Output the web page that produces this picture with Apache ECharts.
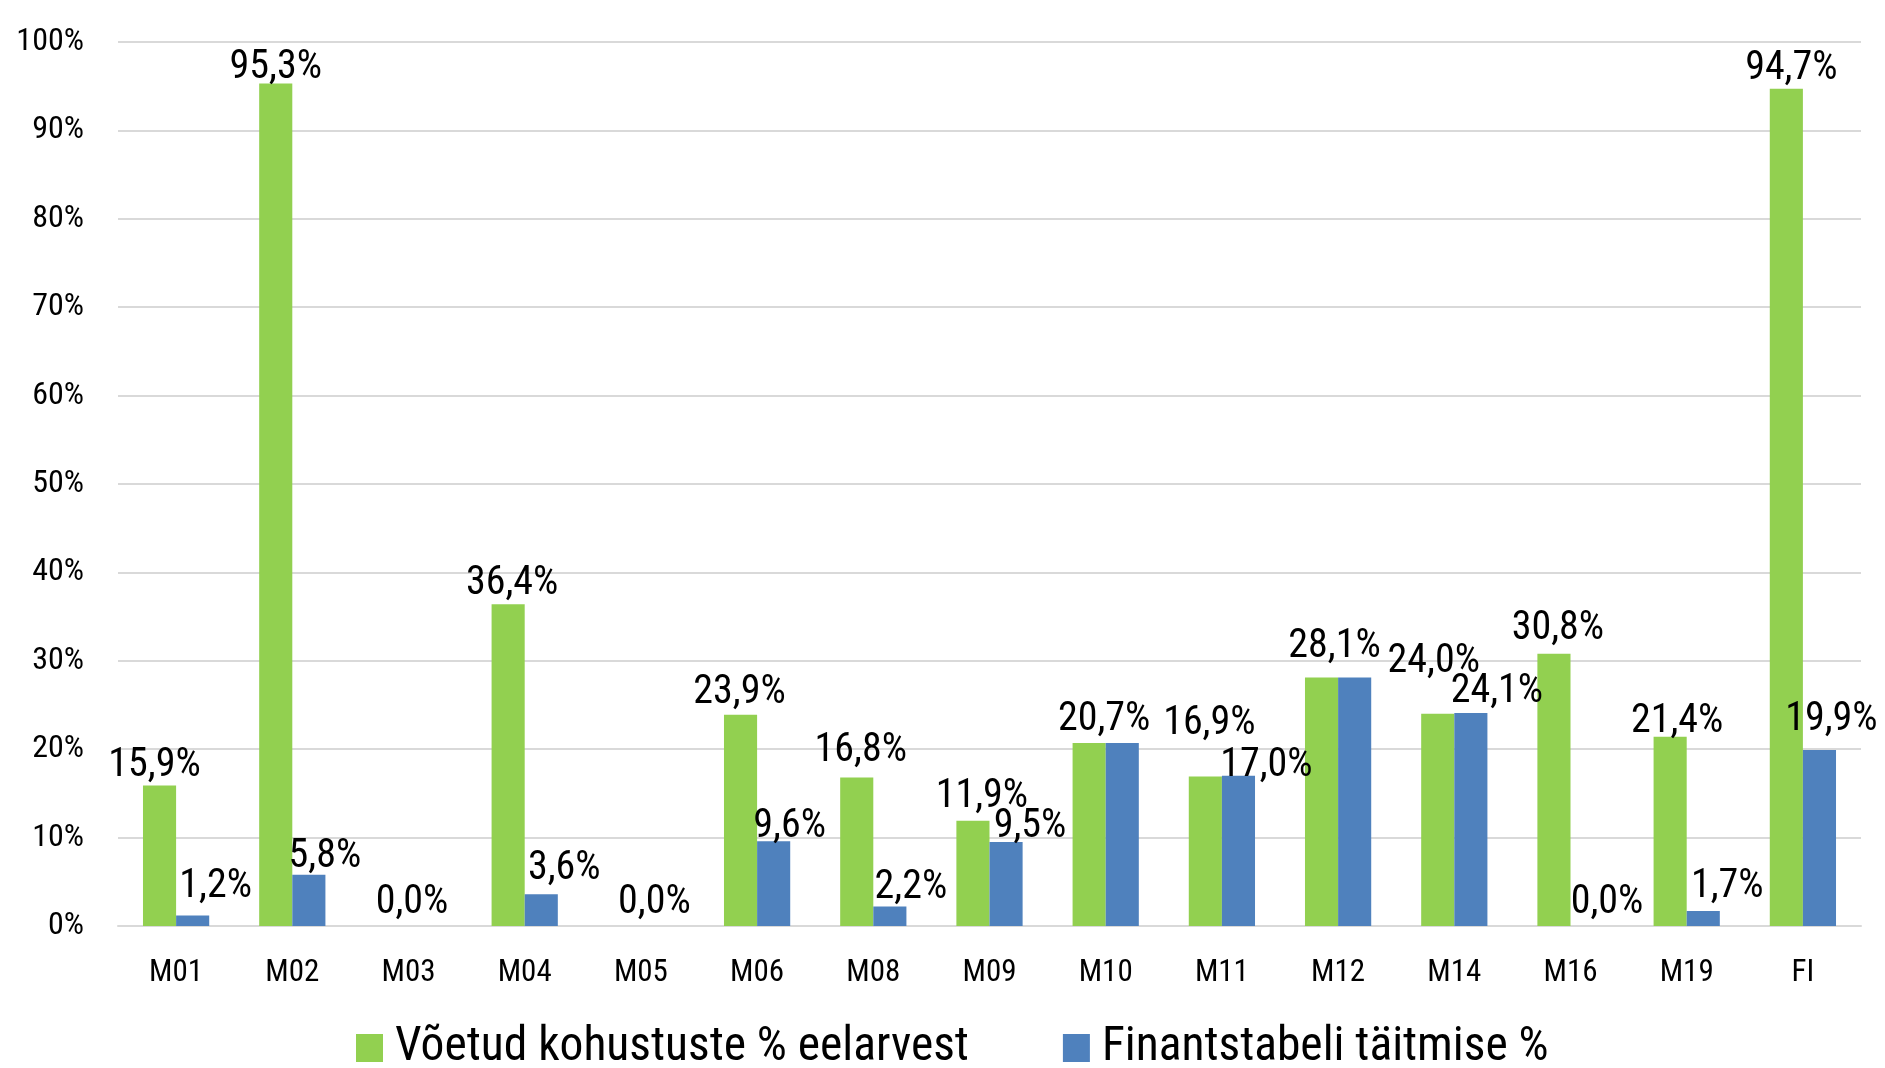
<!DOCTYPE html>
<html>
<head>
<meta charset="utf-8">
<script src="https://cdn.jsdelivr.net/npm/echarts@6/dist/echarts.min.js"></script>
<style>
html,body{margin:0;padding:0;background:#fff;}
#chart{width:1885px;height:1068px;}
</style>
</head>
<body>
<div id="chart"></div>
<script>
const categories = ['M01','M02','M03','M04','M05','M06','M08','M09','M10','M11','M12','M14','M16','M19','FI'];
const seriesNames = ['Võetud kohustuste % eelarvest', 'Finantstabeli täitmise %'];
const greenValues = [15.9, 95.3, 0.0, 36.4, 0.0, 23.9, 16.8, 11.9, 20.7, 16.9, 28.1, 24.0, 30.8, 21.4, 94.7];
const blueValues  = [1.2, 5.8, 0.0, 3.6, 0.0, 9.6, 2.2, 9.5, 20.7, 17.0, 28.1, 24.1, 0.0, 1.7, 19.9];
const yTicks = [0, 10, 20, 30, 40, 50, 60, 70, 80, 90, 100];

// label placement tweaks (style only): [dx, dy], null = label hidden
const greenLabelOffsets = [[-5,5],[0,8],null,[4,4],null,[-1,2],[4,-2],[9,0],[15,1],[4,-29],[13,-7],[-4,-28],[4,-1],[7,9],[5,4]];
const blueLabelOffsets  = [[23,-4],[16,6],[-13,1],[23,-1],[-3,1],[16,10],[21,5],[24,9],null,[28,14],null,[26,3],[20,1],[24,0],[12,-6]];

const FONT = "'Roboto Condensed', 'Liberation Sans Narrow', 'DejaVu Sans Condensed', sans-serif";

function fmt(v){ return v.toFixed(1).replace('.', ',') + '%'; }

function buildData(values, offsets){
  return values.map((v, i) => {
    const o = offsets[i];
    if (!o) return { value: v, label: { show: false } };
    return { value: v, label: { offset: o } };
  });
}

const labelStyle = {
  show: true,
  position: 'top',
  distance: 4,
  fontFamily: FONT,
  fontSize: 40,
  lineHeight: 40,
  color: '#000',
  formatter: p => fmt(p.value)
};

const chart = echarts.init(document.getElementById('chart'), null, {renderer: 'canvas'});
chart.setOption({
  animation: false,
  backgroundColor: '#fff',
  grid: { left: 118, right: 24, top: 42, bottom: 142, containLabel: false },
  legend: {
    data: seriesNames,
    left: 356,
    top: 1024,
    padding: 0,
    itemWidth: 27,
    itemHeight: 28,
    itemGap: 94,
    icon: 'rect',
    textStyle: { fontFamily: FONT, fontSize: 47.5, color: '#000', padding: [0,0,0,7] }
  },
  xAxis: {
    type: 'category',
    data: categories,
    axisLine: { show: true, lineStyle: { color: '#d9d9d9', width: 2 } },
    axisTick: { show: false },
    axisLabel: { fontFamily: FONT, fontSize: 31, color: '#000', margin: 32 }
  },
  yAxis: {
    type: 'value',
    min: yTicks[0],
    max: yTicks[yTicks.length - 1],
    interval: 10,
    axisLine: { show: false },
    axisTick: { show: false },
    splitLine: { lineStyle: { color: '#d9d9d9', width: 2 } },
    axisLabel: { fontFamily: FONT, fontSize: 32, color: '#000', margin: 34, formatter: v => v + '%' }
  },
  series: [
    {
      name: seriesNames[0],
      type: 'bar',
      data: buildData(greenValues, greenLabelOffsets),
      itemStyle: { color: '#92d050' },
      barGap: '0%',
      barCategoryGap: '43%',
      label: labelStyle
    },
    {
      name: seriesNames[1],
      type: 'bar',
      data: buildData(blueValues, blueLabelOffsets),
      itemStyle: { color: '#4f81bd' },
      barGap: '0%',
      barCategoryGap: '43%',
      label: labelStyle
    }
  ]
});
</script>
</body>
</html>
